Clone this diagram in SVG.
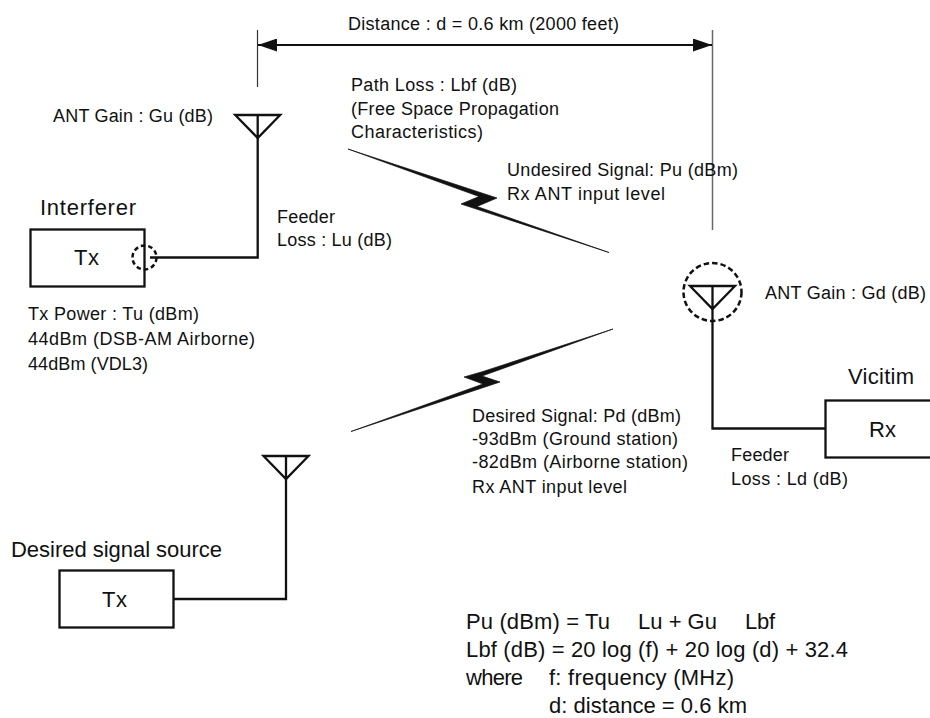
<svg xmlns="http://www.w3.org/2000/svg" width="930" height="718" viewBox="0 0 930 718">
<style>
text{font-family:"Liberation Sans",Arial,sans-serif;fill:#111}
.s{font-size:18px}
.m{font-size:22px}
.f{font-size:22px}
.ln{fill:none;stroke:#111;stroke-width:2.300}
.box{fill:#fff;stroke:#111;stroke-width:2.300}
.dash{fill:none;stroke:#111;stroke-width:2.500;stroke-dasharray:5.500 3}
.dash2{fill:none;stroke:#111;stroke-width:2.500;stroke-dasharray:4.500 3}
</style>
<defs>
<marker id="ah" markerUnits="userSpaceOnUse" markerWidth="19" markerHeight="13" refX="19" refY="6.500" orient="auto-start-reverse"><path d="M0 0L19 6.500L0 13Z" fill="#111"/></marker>
<path id="ant" class="ln" d="M-22.500 0H22.500L0 23ZM0 0V23"/>
</defs>
<g id="connectors">
<path fill="none" stroke="#333" stroke-width="1.200" d="M257.500 30V87"/>
<path fill="none" stroke="#666" stroke-width="1.500" d="M712.500 30V230"/>
<path d="M258 45H712" fill="none" stroke="#111" stroke-width="1.800" marker-start="url(#ah)" marker-end="url(#ah)"/>
<path class="ln" d="M257.700 138V257.500H150"/>
<path class="ln" d="M712.500 309V428.500H825"/>
<path class="ln" d="M286 479V599H173"/>
<path id="link-undesired" fill="#111" stroke="#111" stroke-width="0.700" d="M348 149L497 198L477 206.500L609 252.500L461 204L479 196.500Z"/>
<path id="link-desired" fill="#111" stroke="#111" stroke-width="0.700" d="M613 329L483 371.500L464 377L483 384L351 431.500L482 388L500 382L482 376Z"/>
</g>
<g id="interferer">
<rect class="box" x="30.500" y="229.500" width="114" height="57"/>
<text class="m" x="74" y="265" textLength="25">Tx</text>
<circle class="dash2" cx="144.500" cy="257.500" r="12"/>
<text class="m" x="40" y="215" textLength="96">Interferer</text>
</g>
<g id="antenna-tx"><use href="#ant" x="257.700" y="115"/></g>
<g id="victim">
<rect class="box" x="825.500" y="400.500" width="120" height="57"/>
<text class="m" x="869" y="437" textLength="27">Rx</text>
<text class="m" x="848" y="384" textLength="66">Vicitim</text>
</g>
<g id="antenna-rx">
<use href="#ant" x="712.500" y="286"/>
<circle class="dash" cx="712.500" cy="292" r="29"/>
</g>
<g id="desired-source">
<rect class="box" x="59.500" y="570.500" width="114" height="57"/>
<text class="m" x="102" y="607" textLength="25">Tx</text>
<text class="m" x="11" y="557" textLength="211">Desired signal source</text>
</g>
<g id="antenna-desired"><use href="#ant" x="286" y="456"/></g>
<g id="labels">
<text class="s" x="348" y="30" textLength="271">Distance : d = 0.6 km (2000 feet)</text>
<text class="s" x="351" y="91" textLength="166">Path Loss : Lbf (dB)</text>
<text class="s" x="351" y="115" textLength="208">(Free Space Propagation</text>
<text class="s" x="351" y="138" textLength="132">Characteristics)</text>
<text class="s" x="53" y="122" textLength="160">ANT Gain : Gu (dB)</text>
<text class="s" x="277" y="223" textLength="58">Feeder</text>
<text class="s" x="277" y="246" textLength="115">Loss : Lu (dB)</text>
<text class="s" x="507" y="176" textLength="231">Undesired Signal: Pu (dBm)</text>
<text class="s" x="507" y="200" textLength="158">Rx ANT input level</text>
<text class="s" x="765" y="299" textLength="161">ANT Gain : Gd (dB)</text>
<text class="s" x="28" y="320" textLength="171">Tx Power : Tu (dBm)</text>
<text class="s" x="28" y="345" textLength="227">44dBm (DSB-AM Airborne)</text>
<text class="s" x="28" y="370" textLength="120">44dBm (VDL3)</text>
<text class="s" x="472" y="422" textLength="209">Desired Signal: Pd (dBm)</text>
<text class="s" x="472" y="445" textLength="206">-93dBm (Ground station)</text>
<text class="s" x="472" y="468" textLength="216">-82dBm (Airborne station)</text>
<text class="s" x="472" y="493" textLength="155">Rx ANT input level</text>
<text class="s" x="731" y="461" textLength="58">Feeder</text>
<text class="s" x="731" y="485" textLength="117">Loss : Ld (dB)</text>
<text class="f" x="466" y="629" textLength="144">Pu (dBm) = Tu</text>
<text class="f" x="638" y="629" textLength="79">Lu + Gu</text>
<text class="f" x="745" y="629" textLength="30">Lbf</text>
<text class="f" x="466" y="657" textLength="382">Lbf (dB) = 20 log (f) + 20 log (d) + 32.4</text>
<text class="f" x="466" y="685" textLength="57">where</text>
<text class="f" x="549" y="685" textLength="185">f: frequency (MHz)</text>
<text class="f" x="549" y="713" textLength="198">d: distance = 0.6 km</text>
</g>
</svg>
